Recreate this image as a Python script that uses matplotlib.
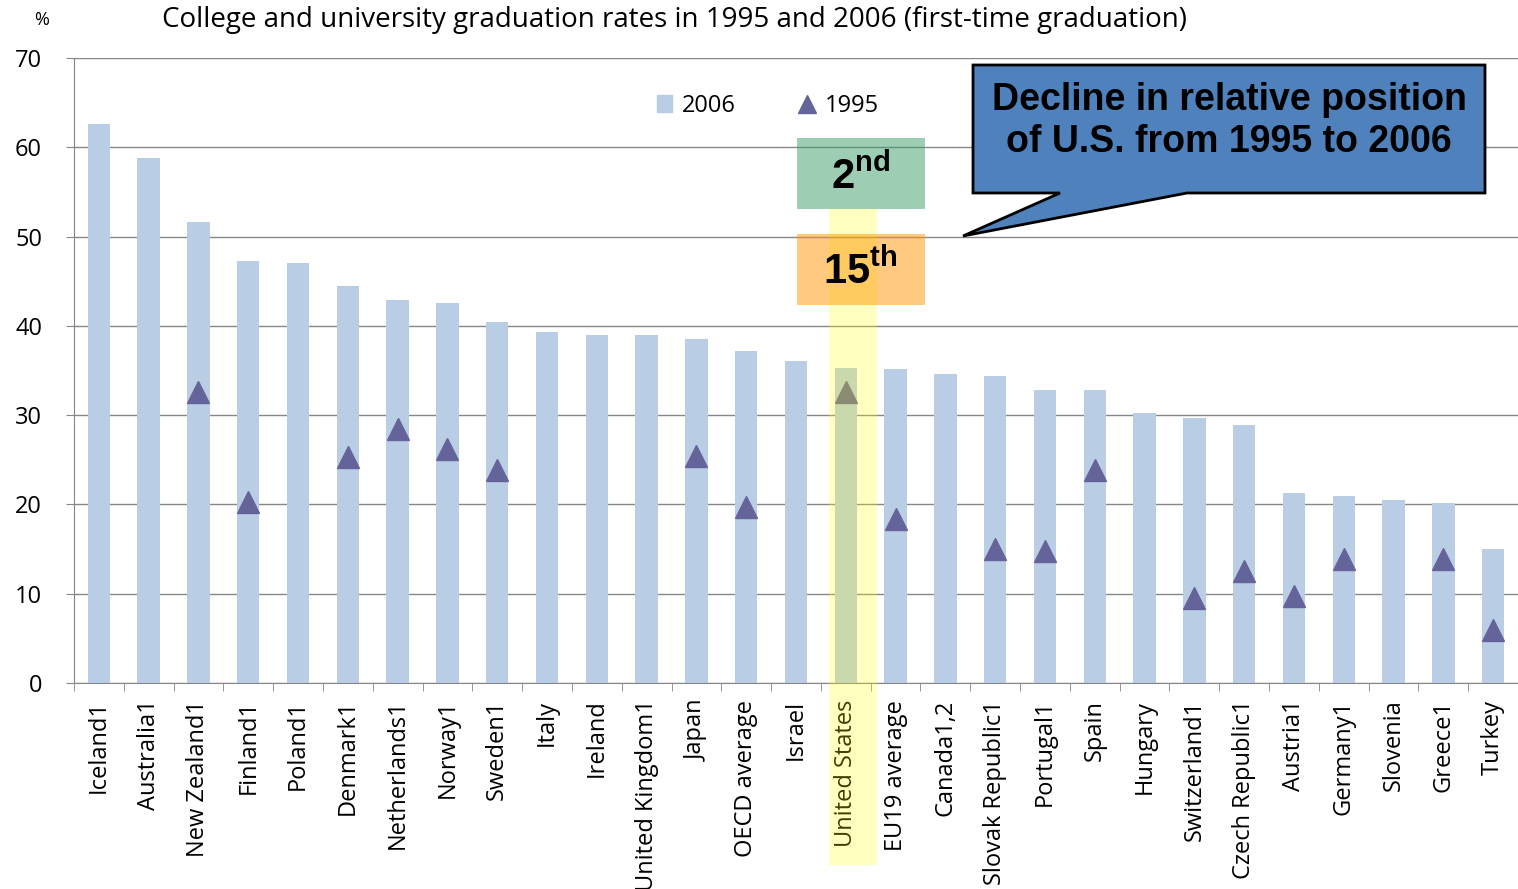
import matplotlib.pyplot as plt
import numpy as np
from matplotlib.patches import Rectangle, Polygon
from matplotlib.lines import Line2D

plt.rcParams['font.family'] = ['Open Sans', 'DejaVu Sans']
plt.rcParams['mathtext.fontset'] = 'custom'
plt.rcParams['mathtext.rm'] = 'Liberation Sans'
plt.rcParams['mathtext.bf'] = 'Liberation Sans:bold'

# ------- data --------#
countries = ['Iceland1', 'Australia1', 'New Zealand1', 'Finland1', 'Poland1', 'Denmark1',
             'Netherlands1', 'Norway1', 'Sweden1', 'Italy', 'Ireland', 'United Kingdom1',
             'Japan', 'OECD average', 'Israel', 'United States', 'EU19 average', 'Canada1,2',
             'Slovak Republic1', 'Portugal1', 'Spain', 'Hungary', 'Switzerland1',
             'Czech Republic1', 'Austria1', 'Germany1', 'Slovenia', 'Greece1', 'Turkey']
rate2006 = [62.6, 58.8, 51.6, 47.3, 47.0, 44.5, 42.9, 42.6, 40.4, 39.3, 39.0, 39.0,
            38.5, 37.2, 36.1, 35.3, 35.2, 34.6, 34.4, 32.8, 32.8, 30.2, 29.7, 28.9,
            21.3, 21.0, 20.5, 20.2, 15.0]
# nan = no 1995 value
rate1995 = [np.nan, np.nan, 32.6, 20.3, np.nan, 25.3, 28.5, 26.2, 23.9, np.nan, np.nan, np.nan,
            25.4, 19.7, np.nan, 32.6, 18.4, np.nan, 15.0, 14.8, 23.9, np.nan, 9.5,
            12.5, 9.7, 13.9, np.nan, 13.9, 5.9]
us_idx = countries.index('United States')

barColor = '#B9CDE5'
triColor = '#65649A'
gridColor = '#868686'

fig = plt.figure(figsize=(15.18, 8.89), dpi=100)
ax = fig.add_axes([74 / 1518, 1 - 683 / 889, 1 - 74 / 1518, (683 - 58) / 889])

x = np.arange(len(countries))
bars = ax.bar(x, rate2006, width=0.45, color=barColor, zorder=2)
ax.plot(x, rate1995, linestyle='none', marker='^', markersize=16, color=triColor, zorder=3)

ax.set_xlim(-0.5, len(countries) - 0.5)
ax.set_ylim(0, 70)
ax.set_yticks(range(0, 71, 10))
ax.yaxis.grid(True, color=gridColor, linewidth=1.0, zorder=0)
ax.set_axisbelow(True)
ax.tick_params(axis='y', labelsize=17, length=6, color=gridColor, pad=17)

ax.set_xticks(x)
ax.set_xticklabels(countries, rotation=90, fontsize=17)
ax.set_xticks(np.arange(-0.5, len(countries), 1), minor=True)
ax.tick_params(axis='x', which='major', length=0, pad=12)
ax.tick_params(axis='x', which='minor', length=6, color=gridColor)

for side in ['top', 'right']:
    ax.spines[side].set_visible(False)
ax.spines['left'].set_color(gridColor)
ax.spines['bottom'].set_color(gridColor)

# titles
fig.text(42 / 1518, 1 - 20 / 889, '%', fontsize=13, ha='center', va='center')
fig.text(675 / 1518, 1 - 20 / 889,
         'College and university graduation rates in 1995 and 2006 (first-time graduation)',
         fontsize=20, ha='center', va='center')

# legend
handles = [Rectangle((0, 0), 1, 1, color=barColor),
           Line2D([], [], linestyle='none', marker='^', markersize=13, color=triColor)]
ax.legend(handles, ['2006', '1995'], ncol=2, frameon=False, fontsize=17,
          loc='center', bbox_to_anchor=(768 / 1518, 1 - 106 / 889),
          bbox_transform=fig.transFigure, handlelength=0.6, handletextpad=0.45,
          columnspacing=2.7)

# highlight on United States
ax.add_patch(Rectangle((us_idx - 0.34, -20.4), 0.96, 73.5, facecolor='yellow', alpha=0.25,
                       edgecolor='none', zorder=5, clip_on=False))
ax.add_patch(Rectangle((us_idx - 0.98, 53.1), 2.57, 7.9, facecolor='#3C9E6A', alpha=0.5,
                       edgecolor='none', zorder=6))
ax.add_patch(Rectangle((us_idx - 0.98, 42.3), 2.57, 8.0, facecolor='#FF9600', alpha=0.5,
                       edgecolor='none', zorder=6))
ax.text(us_idx + 0.29, 56.6, r'$\mathbf{2}^{\mathbf{nd}}$', fontsize=30, ha='center',
        va='center', zorder=7)
ax.text(us_idx + 0.29, 46.0, r'$\mathbf{15}^{\mathbf{th}}$', fontsize=30, ha='center',
        va='center', zorder=7)

# callout box
pts = [(973, 65), (1485, 65), (1485, 193), (1187, 193), (963, 236), (1060, 193), (973, 193)]
pts = [(px / 1518, 1 - py / 889) for px, py in pts]
fig.patches.append(Polygon(pts, closed=True, facecolor='#4F81BD', edgecolor='black',
                           linewidth=2, transform=fig.transFigure, zorder=8))
fig.text(1229 / 1518, 1 - 121 / 889, 'Decline in relative position\nof U.S. from 1995 to 2006',
         family='Liberation Sans', fontweight='bold', fontsize=27, ha='center', va='center',
         linespacing=1.2, zorder=9)

plt.savefig('out.png', dpi=100)
